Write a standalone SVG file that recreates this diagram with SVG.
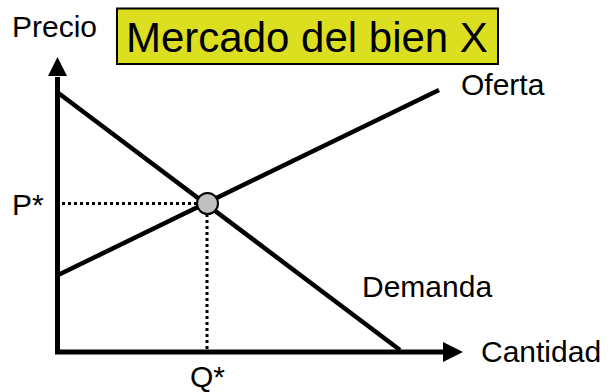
<svg xmlns="http://www.w3.org/2000/svg" width="611" height="392" viewBox="0 0 611 392">
<style>
text{font-family:"Liberation Sans",Arial,sans-serif;fill:#000}
.lbl{font-size:30px}
.ax{stroke:#000;stroke-width:5;fill:none}
.curve{stroke:#000;stroke-width:4.5;fill:none;stroke-linecap:butt}
.dot{stroke:#000;stroke-width:3;stroke-dasharray:3 3;fill:none}
.head{fill:#000}
</style>
<g id="connectors">
<path class="ax" d="M57.5,352 L57.5,77"/>
<path class="head" d="M57.5,57 L48,76 L67,76 Z"/>
<path class="ax" d="M55,352 L444,352"/>
<path class="head" d="M463,352 L443,342 L443,362 Z"/>
<path class="curve" d="M57,92 L400,350"/>
<path class="curve" d="M56,276 L439,90"/>
<path class="dot" d="M62,203.5 L197,203.5"/>
<path class="dot" d="M207,214 L207,349"/>
</g>
<g id="title">
<rect x="117" y="8.5" width="381" height="55.5" fill="#dbdf1f" stroke="#000" stroke-width="2"/>
<text x="126" y="52" font-size="42">Mercado del bien X</text>
</g>
<g id="equilibrium">
<circle cx="207.5" cy="203.5" r="10.5" fill="#c0c0c0" stroke="#000" stroke-width="2"/>
</g>
<g id="labels">
<text class="lbl" x="12" y="37" font-size="29">Precio</text>
<text class="lbl" x="461" y="95">Oferta</text>
<text class="lbl" x="362" y="297">Demanda</text>
<text class="lbl" x="481" y="362">Cantidad</text>
<text class="lbl" x="12" y="215">P*</text>
<text class="lbl" x="190" y="387">Q*</text>
</g>
</svg>
